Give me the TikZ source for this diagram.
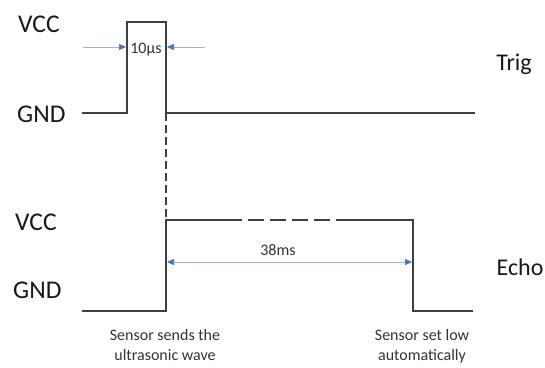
\documentclass[tikz,border=0pt]{standalone}
\usepackage{fontspec}
\setmainfont{Carlito}
\usetikzlibrary{arrows.meta}
\definecolor{sigline}{HTML}{3F3F3F}
\definecolor{dimline}{HTML}{9FB4CF}
\definecolor{dimtip}{HTML}{4472C4}
\begin{document}
\begin{tikzpicture}[x=1pt,y=-1pt,
  signal/.style={draw=sigline, line width=1.6pt},
  dimarrow/.style={draw=dimline, line width=0.7pt, -{Triangle[length=7pt,width=6pt,color=dimtip]}},
  dimboth/.style={draw=dimline, line width=0.7pt, {Triangle[length=7pt,width=6pt,color=dimtip]}-{Triangle[length=7pt,width=6pt,color=dimtip]}},
  level/.style={anchor=base west, font=\fontsize{25.5}{28}\selectfont, text=black!90, inner sep=0pt},
  chan/.style={anchor=base, font=\fontsize{24}{28}\selectfont, text=black!90, inner sep=0pt},
  note/.style={font=\fontsize{16}{20}\selectfont, text=black!80, inner sep=0pt, align=center}]
\useasboundingbox (0,0) rectangle (545,367);

% Trig pulse
\coordinate (t0) at (82,113);
\coordinate (t1) at (127,113);
\coordinate (t2) at (127,22);
\coordinate (t3) at (166,22);
\coordinate (t4) at (166,113);
\coordinate (t5) at (475,113);
\draw[signal] (t0) -- (t1) -- (t2) -- (t3) -- (t4) -- (t5);

% Echo pulse
\coordinate (e0) at (82,311);
\coordinate (e1) at (166,311);
\coordinate (e2) at (166,220);
\coordinate (e3) at (242,220);
\coordinate (e4) at (336,220);
\coordinate (e5) at (413,220);
\coordinate (e6) at (413,311);
\coordinate (e7) at (473,311);
\draw[signal] (e3) -- (e2) -- (e1) -- (e0);
\draw[signal] (e4) -- (e5) -- (e6) -- (e7);
\draw[signal, dash pattern=on 16pt off 6pt, dash phase=16pt] (e3) -- (e4);
\draw[signal, dash pattern=on 8pt off 4pt] (t4) -- (e2);

% widths
\coordinate (p1) at (83,47);
\coordinate (p2) at (126,47);
\coordinate (p3) at (205,47);
\coordinate (p4) at (167,47);
\draw[dimarrow] (p1) -- (p2);
\draw[dimarrow] (p3) -- (p4);
\coordinate (q1) at (167,262);
\coordinate (q2) at (412,262);
\draw[dimboth] (q1) -- (q2);

\node[note, anchor=base] (pulse) at (146,53) {10µs};
\node[note, anchor=base] (span) at (278,255) {38ms};

% levels and channels
\node[level] (vcc1) at (18,32) {VCC};
\node[level] (gnd1) at (17,122) {GND};
\node[level] (vcc2) at (15,230) {VCC};
\node[level] (gnd2) at (13,298) {GND};
\node[chan] (trig) at (514,70) {Trig};
\node[chan] (echo) at (520,275) {Echo};

\node[note, anchor=north] (send) at (165,329) {Sensor sends the\\ultrasonic wave};
\node[note, anchor=north] (low) at (422,329) {Sensor set low\\automatically};
\end{tikzpicture}
\end{document}
